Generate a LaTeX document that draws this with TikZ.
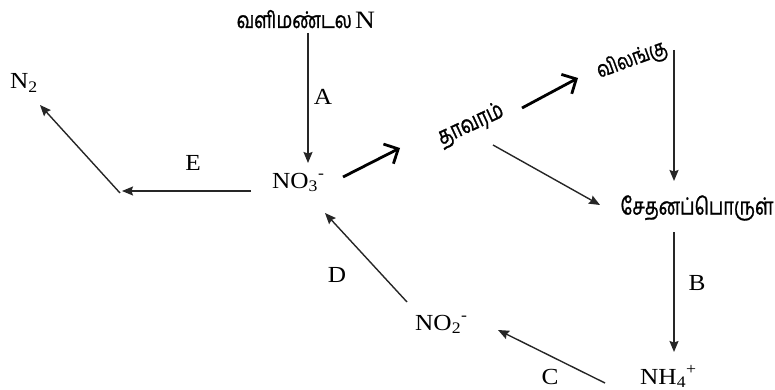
\documentclass[tikz,border=0pt]{standalone}
\usepackage{fontspec}
\setmainfont{Liberation Serif}
\newfontfamily\tamil[Script=Tamil,FakeBold=1.2]{Hind Madurai}
\usetikzlibrary{arrows.meta}
\newcommand{\sx}[1]{\scalebox{1.1}[1]{#1}}
\newcommand{\tm}[2]{\resizebox{#1}{!}{\scalebox{1}[1.3]{\tamil #2}}}
\tikzset{
  chem/.style={anchor=base west, inner sep=0pt, font=\fontsize{23}{23}\selectfont},
  lab/.style={inner sep=0pt, font=\fontsize{23}{23}\selectfont},
  tam/.style={inner sep=0pt},
  thin/.style={draw=black!85, line width=1.4pt, -{Stealth[length=11pt,width=9pt,inset=1.5pt]}},
  thick/.style={draw=black, line width=2.8pt, -{Straight Barb[length=11pt,width=22pt]}}
}
\begin{document}
\begin{tikzpicture}[x=1pt,y=-1pt]
\useasboundingbox (0,0) rectangle (775,390);
% texts
\node[tam, anchor=base east] (atm) at (352,28) {\tm{115pt}{வளிமண்டல}};
\node[anchor=base west, inner sep=0pt, font=\fontsize{25}{25}\selectfont] (atmN) at (355,29) {\sx{N}};
\node[chem] (no3) at (272,188) {\sx{NO\textsubscript{3}\textsuperscript{-}}};
\node[chem] (no2) at (415,330) {\sx{NO\textsubscript{2}\textsuperscript{-}}};
\node[chem] (nh4) at (640,384) {\sx{NH\textsubscript{4}\textsuperscript{+}}};
\node[chem] (n2) at (10,89) {\sx{N\textsubscript{2}}};
\node[tam, rotate=25] (plant) at (471,125) {\tm{70pt}{தாவரம்}};
\node[tam, rotate=20] (animal) at (632,60) {\tm{73pt}{விலங்கு}};
\node[tam] (org) at (697,208) {\tm{153pt}{சேதனப்பொருள்}};
\node[lab] (la) at (323,97) {\sx{A}};
\node[lab] (lb) at (697,283) {\sx{B}};
\node[lab] (lc) at (550,377) {\sx{C}};
\node[lab] (ld) at (337,275) {\sx{D}};
\node[lab] (le) at (193,163) {\sx{E}};
% connector ends
\coordinate (aS) at (308,33);  \coordinate (aE) at (308,163);
\coordinate (eS) at (251,191); \coordinate (eE) at (122,191);
\coordinate (nS) at (120,193); \coordinate (nE) at (40,105);
\coordinate (t1S) at (343,177); \coordinate (t1E) at (400,148);
\coordinate (t2S) at (522,108); \coordinate (t2E) at (578,78);
\coordinate (poS) at (493,145); \coordinate (poE) at (600,205);
\coordinate (aoS) at (674,50); \coordinate (aoE) at (674,181);
\coordinate (bS) at (674,232); \coordinate (bE) at (674,352);
\coordinate (cS) at (605,383); \coordinate (cE) at (498,330);
\coordinate (dS) at (407,302); \coordinate (dE) at (325,213);
% connectors
\draw[thin] (aS) -- (aE);
\draw[thin] (eS) -- (eE);
\draw[thin] (nS) -- (nE);
\draw[thick] (t1S) -- (t1E);
\draw[thick] (t2S) -- (t2E);
\draw[thin] (poS) -- (poE);
\draw[thin] (aoS) -- (aoE);
\draw[thin] (bS) -- (bE);
\draw[thin] (cS) -- (cE);
\draw[thin] (dS) -- (dE);
\end{tikzpicture}
\end{document}
